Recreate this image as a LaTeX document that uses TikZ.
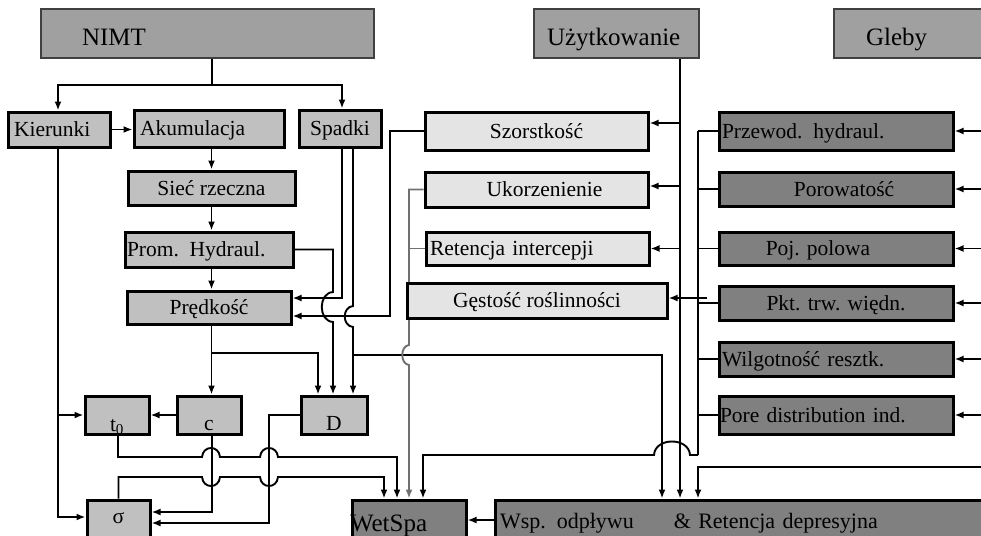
\documentclass[tikz,border=0pt]{standalone}
\usepackage{fontspec}
\setmainfont{Liberation Serif}
\usetikzlibrary{arrows.meta,backgrounds,calc}
\definecolor{topg}{HTML}{A0A0A0}
\definecolor{midg}{HTML}{C0C0C0}
\definecolor{liteg}{HTML}{E4E4E4}
\definecolor{darkg}{HTML}{808080}
\definecolor{busg}{HTML}{707070}
\newcommand\bxf{\fontsize{21.5}{24}\selectfont}
\newcommand\tpf{\fontsize{25}{28}\selectfont}
\begin{document}
\begin{tikzpicture}[x=1pt,y=-1pt,
  bxbase/.style={draw=black, line width=3pt, inner sep=0pt, font=\bxf, text height=18pt, text depth=4pt},
  topbox/.style={draw=black!75, line width=1.3pt, fill=topg, inner sep=0pt, font=\tpf, text height=26pt, text depth=2pt, align=left},
  midbox/.style={bxbase, fill=midg},
  vegbox/.style={bxbase, fill=liteg},
  soilbox/.style={bxbase, fill=darkg, minimum width=234},
  con/.style={line width=1.9pt, draw=black},
  arr/.style={con, -{Latex[length=9pt,width=7pt]}},
  garr/.style={arr, draw=busg},
]
\useasboundingbox (0,0) rectangle (981,535);
\clip (0,0) rectangle (981,535);

% top sources
\node[topbox, minimum width=333, minimum height=49, text width=251, inner xsep=41] (nimt) at (207.5,33.5) {NIMT};
\node[topbox, minimum width=165, minimum height=49, text width=139, inner xsep=13] (uzyt) at (616.5,33.5) {Użytkowanie};
\node[topbox, minimum width=166, minimum height=49, text width=102, inner xsep=32] (gleby) at (917,33.5) {Gleby};

% NIMT chain
\node[midbox, minimum width=102, minimum height=35, text width=90, inner xsep=6, align=left] (kier) at (59,129.5) {Kierunki};
\node[midbox, minimum width=150, minimum height=37, text width=138, inner xsep=6, align=left] (akum) at (209,128.5) {Akumulacja};
\node[midbox, minimum width=82, minimum height=37] (spadki) at (340,128.5) {Spadki};
\node[midbox, minimum width=167, minimum height=34] (siec) at (211.5,188) {Sieć rzeczna};
\node[midbox, minimum width=168, minimum height=35, text width=164, inner xsep=2, align=left] (prom) at (209,249.5) {Prom. Hydraul.};
\node[midbox, minimum width=164, minimum height=33] (pred) at (209,307.5) {Prędkość};
\node[midbox, minimum width=64, minimum height=38, text height=32pt, text depth=0pt] (t0) at (117,415) {t\textsubscript{0}};
\node[midbox, minimum width=64, minimum height=38, text height=30pt, text depth=0pt] (cbox) at (209,415) {c};
\node[midbox, minimum width=66, minimum height=38, text height=30pt, text depth=0pt] (dbox) at (334,415) {D};
\node[midbox, minimum width=63, minimum height=40, text height=6pt, text depth=0pt] (sigma) at (118.5,520) {σ};
\node[bxbase, fill=darkg, minimum width=114, minimum height=40, text width=114, inner xsep=0, align=left, font=\tpf, text height=22pt, text depth=0pt] (wetspa) at (409,520) {\hspace*{-2pt}WetSpa};
\node[bxbase, fill=darkg, minimum width=505, minimum height=40, text width=495, inner xsep=5, align=left, font=\fontsize{22}{26}\selectfont, text height=16pt, text depth=0pt] (wsp) at (747.5,520) {Wsp. odpływu\hspace{40pt}\& Retencja depresyjna};

% land use derived
\node[vegbox, minimum width=223, minimum height=38] (szor) at (536.5,131) {Szorstkość};
\node[vegbox, minimum width=223, minimum height=35] (ukor) at (536.5,189.5) {\hspace*{16pt}Ukorzenienie};
\node[vegbox, minimum width=223, minimum height=33, text width=215, inner xsep=4, align=left] (ret) at (537.5,248.5) {Retencja intercepji};
\node[vegbox, minimum width=260, minimum height=35] (gest) at (537,300.5) {Gęstość roślinności};

% soil derived
\node[soilbox, minimum height=38, text width=228, inner xsep=3, align=left] (przew) at (836,131) {Przewod. hydraul.};
\node[soilbox, minimum height=34] (poro) at (836,189) {\hspace*{16pt}Porowatość};
\node[soilbox, minimum height=33] (pojp) at (836,248.5) {\hspace*{-36pt}Poj. polowa};
\node[soilbox, minimum height=34] (pkt) at (836,303) {Pkt. trw. więdn.};
\node[soilbox, minimum height=34, text width=228, inner xsep=3, align=left] (wilg) at (836,359) {Wilgotność resztk.};
\node[soilbox, minimum height=38, text width=232, inner xsep=1, align=left] (pore) at (836,415) {Pore distribution ind.};

\begin{pgfonlayer}{background}
% NIMT
\coordinate (nj) at (212,85);
\draw[con] (nimt.south -| nj) -- (nj);
\draw[arr] (nj) -| ([xshift=-1pt]kier.north);
\draw[arr] (nj) -| ([xshift=2pt]spadki.north);
\draw[arr] (kier.east) -- (kier.east -| akum.west);
\draw[arr] (akum.south -| siec.north) -- (siec.north);
\draw[arr] (siec.south) -- (siec.south |- prom.north);
\draw[arr] (prom.south -| siec.south) -- (pred.north -| siec.south);

% Predkosc -> c, D
\coordinate (pj) at (211.5,353);
\draw[con] (pred.south -| pj) -- (pj);
\draw[arr] (pj) -- (pj |- cbox.north);
\draw[arr] (pj) -| ([xshift=-16pt]dbox.north);

% Prom -> D
\draw[arr] (prom.east) -| (333,292) .. controls (318,293) and (318,321) .. (333,322) -- ([xshift=-1pt]dbox.north);

% Spadki
\draw[arr] ([xshift=2pt]spadki.south) |- ($(pred.east)+(0,-9.5)$);
\draw[arr] ([xshift=13pt]spadki.south) -- (353,306) .. controls (342,307) and (342,326) .. (353,327) -- ([xshift=19pt]dbox.north);
\coordinate (sj) at (353,355);
\coordinate (cG) at (662,0);
\draw[arr] (sj) -| (wsp.north -| cG);

% Szorstkosc -> Predkosc
\draw[arr] (szor.west) -| (390,316) -- ($(pred.east)+(0,8.5)$);

% grey bus from Ukorzenienie / Retencja
\coordinate (cR) at (409,0);
\draw[garr] (ukor.west) -| (409,345) .. controls (400,346) and (400,364) .. (409,365) -- (wetspa.north);
\draw[con, draw=busg] (ret.west) -- (ret.west -| cR);

% Uzytkowanie
\coordinate (cU) at (680,0);
\draw[arr] (uzyt.south -| cU) -- (wsp.north -| cU);
\draw[arr] ($(szor.east -| cU)+(0,-8)$) -- ($(szor.east)+(0,-8)$);
\draw[arr] ($(ukor.east -| cU)+(0,-3.5)$) -- ($(ukor.east)+(0,-3.5)$);
\draw[arr] (ret.east -| cU) -- (ret.east);
\draw[arr] ($(gest.east)+(38,-2.5)$) -- ($(gest.east)+(0,-2.5)$);

% soil bus
\coordinate (cS) at (698,0);
\coordinate (sb) at (698,455);
\draw[con] (przew.west -| cS) -- (sb);
\foreach \n in {przew,poro,pojp,pkt,wilg,pore} \draw[con] (\n.west) -- (\n.west -| cS);
\draw[arr] (sb) -- (690,455) .. controls (689,437) and (655,437) .. (654,455) -| ([xshift=14pt]wetspa.north);

% right edge inputs
\coordinate (cE) at (981,0);
\foreach \n in {przew,poro,pojp,pkt,wilg,pore} \draw[arr] (\n.east -| cE) -- (\n.east);
\coordinate (rin) at (981,467);
\draw[arr] (rin) -| (wsp.north -| cS);

% Wsp -> WetSpa
\draw[arr] (wsp.west) -- (wetspa.east);

% t0 -> WetSpa
\draw[arr] ([xshift=1pt]t0.south) -- (118,457) -- (202,457) .. controls (203,445) and (219,445) .. (220,457) -- (260,457) .. controls (261,445) and (277,445) .. (278,457) -| ([xshift=-12pt]wetspa.north);
% sigma -> WetSpa
\draw[arr] (sigma.north) -- (118.5,477) -- (202,477) .. controls (203,489) and (219,489) .. (220,477) -- (260,477) .. controls (261,489) and (277,489) .. (278,477) -| ([xshift=-25pt]wetspa.north);

% c -> sigma, D -> sigma, c -> t0
\draw[arr] ([xshift=3pt]cbox.south) |- ($(sigma.east)+(0,-8)$);
\draw[arr] (dbox.west) -| (269,523) -- ($(sigma.east)+(0,3)$);
\draw[arr] (cbox.west) -- (t0.east);

% Kierunki -> t0, sigma
\draw[arr] ([xshift=-1pt]kier.south) |- ($(sigma.west)+(0,-3)$);
\draw[arr] (t0.west -| kier.south) -- (t0.west);
\end{pgfonlayer}
\end{tikzpicture}
\end{document}
